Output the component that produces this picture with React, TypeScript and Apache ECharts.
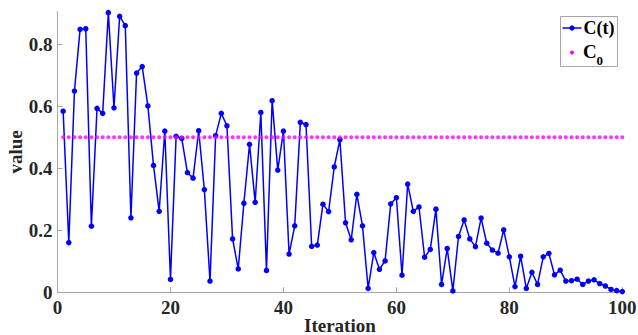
import React, { useEffect, useRef } from "react";
import * as echarts from "echarts";

const iterations: number[] = Array.from({ length: 100 }, (_, i) => i + 1);

const cValues: number[] = [
  0.584, 0.160, 0.649, 0.848, 0.850, 0.213, 0.593, 0.577, 0.902, 0.595,
  0.890, 0.860, 0.240, 0.707, 0.728, 0.601, 0.409, 0.261, 0.520, 0.041,
  0.503, 0.496, 0.386, 0.368, 0.521, 0.331, 0.036, 0.505, 0.577, 0.537,
  0.172, 0.075, 0.287, 0.477, 0.290, 0.580, 0.070, 0.618, 0.394, 0.520,
  0.123, 0.214, 0.548, 0.541, 0.148, 0.152, 0.284, 0.260, 0.404, 0.492,
  0.224, 0.169, 0.316, 0.214, 0.012, 0.128, 0.074, 0.101, 0.285, 0.305,
  0.055, 0.349, 0.261, 0.275, 0.113, 0.138, 0.268, 0.025, 0.141, 0.004,
  0.180, 0.233, 0.172, 0.147, 0.239, 0.158, 0.136, 0.126, 0.201, 0.114,
  0.018, 0.116, 0.012, 0.064, 0.025, 0.114, 0.125, 0.056, 0.071, 0.036,
  0.037, 0.042, 0.025, 0.036, 0.040, 0.028, 0.020, 0.009, 0.005, 0.002,
];

const c0Value = 0.5;
const c0Values: number[] = iterations.map(() => c0Value);

const xTicks: number[] = [0, 20, 40, 60, 80, 100];
const yTicks: number[] = [0, 0.2, 0.4, 0.6, 0.8];

const seriesNames = ["C(t)", "C", "0"];

const FONT = "Liberation Serif";

export default function App() {
  const ref = useRef<HTMLDivElement>(null);

  useEffect(() => {
    if (!ref.current) return;
    const chart = echarts.init(ref.current, undefined, { renderer: "svg" });
    const axisColor = "#a6a6a6";
    const labelColor = "#262626";
    chart.setOption({
      animation: false,
      backgroundColor: "#ffffff",
      grid: {
        left: 57.5,
        right: 15.7,
        top: 11.7,
        bottom: 42.8,
        containLabel: false,
        outerBoundsMode: "none",
      },
      xAxis: {
        type: "value",
        min: xTicks[0],
        max: xTicks[xTicks.length - 1],
        interval: xTicks[1] - xTicks[0],
        name: "Iteration",
        nameLocation: "middle",
        nameGap: 24,
        nameMoveOverlap: false,
        nameTextStyle: { fontFamily: FONT, fontWeight: "bold", fontSize: 19, color: labelColor },
        axisLine: { show: true, lineStyle: { color: axisColor, width: 1 } },
        axisTick: { show: true, inside: true, length: 5, lineStyle: { color: axisColor } },
        axisLabel: { fontFamily: FONT, fontWeight: "bold", fontSize: 19, color: labelColor, margin: 6 },
        splitLine: { show: false },
      },
      yAxis: {
        type: "value",
        min: yTicks[0],
        max: 0.905,
        interval: yTicks[1] - yTicks[0],
        name: "value",
        nameLocation: "middle",
        nameGap: 33,
        nameMoveOverlap: false,
        nameTextStyle: { fontFamily: FONT, fontWeight: "bold", fontSize: 19, color: labelColor },
        axisLine: { show: true, lineStyle: { color: axisColor, width: 1 } },
        axisTick: { show: true, inside: true, length: 5, lineStyle: { color: axisColor } },
        axisLabel: {
          fontFamily: FONT,
          fontWeight: "bold",
          fontSize: 19,
          color: labelColor,
          margin: 5,
          showMaxLabel: false,
          formatter: (v: number) => (yTicks.some((t) => Math.abs(t - v) < 1e-9) ? String(+v.toFixed(1)) : ""),
        },
        splitLine: { show: false },
      },
      series: [
        {
          name: seriesNames[0],
          type: "line",
          data: iterations.map((x, i) => [x, cValues[i]]),
          symbol: "circle",
          symbolSize: 5.5,
          showSymbol: true,
          lineStyle: { color: "#0000ff", width: 1.5 },
          itemStyle: { color: "#0000ff" },
          z: 2,
        },
        {
          name: "C0",
          type: "scatter",
          data: iterations.map((x, i) => [x, c0Values[i]]),
          symbol: "circle",
          symbolSize: 4,
          itemStyle: { color: "#ff00ff" },
          z: 3,
        },
      ],
      graphic: [
        {
          type: "group",
          left: 560,
          top: 16,
          children: [
            {
              type: "rect",
              shape: { x: 0, y: 0, width: 57, height: 50 },
              style: { fill: "#ffffff", stroke: "#a6a6a6", lineWidth: 1 },
            },
            {
              type: "line",
              shape: { x1: 2, y1: 11.5, x2: 21, y2: 11.5 },
              style: { stroke: "#0000ff", lineWidth: 1.5 },
            },
            {
              type: "circle",
              shape: { cx: 11.5, cy: 11.5, r: 2.6 },
              style: { fill: "#0000ff" },
            },
            {
              type: "text",
              x: 23,
              y: 11.5,
              style: {
                text: seriesNames[0],
                fontFamily: FONT,
                fontWeight: "bold",
                fontSize: 18,
                fill: "#000000",
                verticalAlign: "middle",
                align: "left",
              },
            },
            {
              type: "circle",
              shape: { cx: 11.5, cy: 36, r: 2 },
              style: { fill: "#ff00ff" },
            },
            {
              type: "text",
              x: 22.5,
              y: 34.5,
              style: {
                text: seriesNames[1],
                fontFamily: FONT,
                fontWeight: "bold",
                fontSize: 19,
                fill: "#000000",
                verticalAlign: "middle",
                align: "left",
              },
            },
            {
              type: "text",
              x: 36,
              y: 43.5,
              style: {
                text: seriesNames[2],
                fontFamily: FONT,
                fontWeight: "bold",
                fontSize: 13,
                fill: "#000000",
                verticalAlign: "middle",
                align: "left",
              },
            },
          ],
        },
      ],
    });
    return () => chart.dispose();
  }, []);

  return (
    <div
      ref={ref}
      style={{ position: "fixed", left: 0, top: 0, width: 638, height: 335, background: "#fff" }}
    />
  );
}
